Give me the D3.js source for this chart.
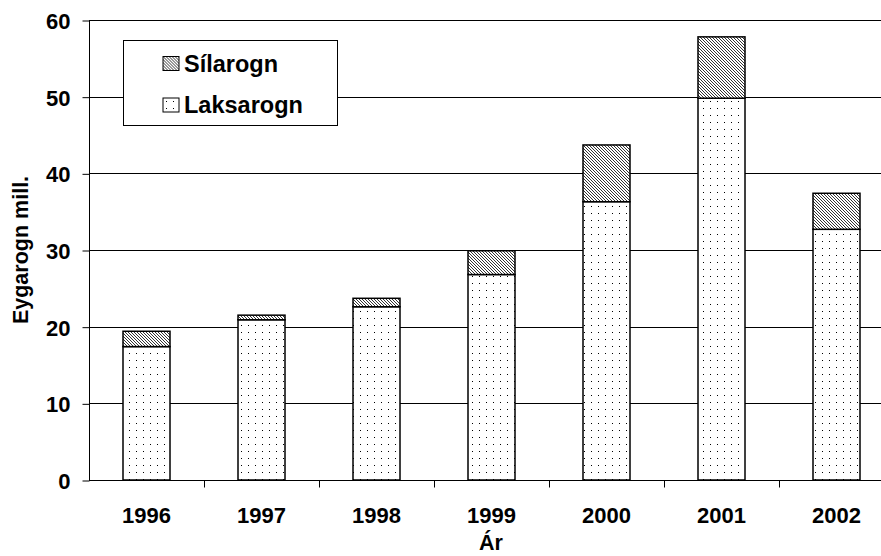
<!DOCTYPE html>
<html>
<head>
<meta charset="utf-8">
<script src="https://cdn.jsdelivr.net/npm/d3@7"></script>
<style>
    body { margin: 0; background: #fff; }
    text { font-family: Arial, "Liberation Sans", Helvetica, sans-serif; font-weight: bold; fill: #000; }
</style>
</head>
<body>
<svg width="881" height="556"></svg>
<script>
// chart data
var years = ['1996', '1997', '1998', '1999', '2000', '2001', '2002'];
var laksarogn = [17.4, 20.9, 22.6, 26.8, 36.3, 49.8, 32.7];
var silarogn = [2.0, 0.6, 1.1, 3.1, 7.4, 8.0, 4.7];
var yTicks = [0, 10, 20, 30, 40, 50, 60];
var seriesNames = ['Sílarogn', 'Laksarogn'];

var svg = d3.select('svg');

// plot area (the right edge runs past the picture, as in the original)
var padding = {t: 20, l: 89, r: 894, b: 480};

var xScale = d3.scaleBand()
    .domain(years)
    .range([padding.l, padding.r])
    .paddingInner(68 / 115)
    .paddingOuter(34 / 115);

var yScale = d3.scaleLinear()
    .domain([0, 60])
    .range([padding.b, padding.t]);

// fill patterns
var defs = svg.append('defs');

var dots = defs.append('pattern')
    .attr('id', 'dots')
    .attr('patternUnits', 'userSpaceOnUse')
    .attr('width', 7)
    .attr('height', 7);
dots.append('rect').attr('width', 7).attr('height', 7).attr('fill', '#fff');
dots.append('rect').attr('x', 3).attr('y', 3).attr('width', 1).attr('height', 1).attr('fill', '#000');

var hatch = defs.append('pattern')
    .attr('id', 'hatch')
    .attr('patternUnits', 'userSpaceOnUse')
    .attr('width', 3)
    .attr('height', 3);
hatch.append('rect').attr('width', 3).attr('height', 3).attr('fill', '#fff');
[0, 1, 2].forEach(function(i) {
    hatch.append('rect').attr('x', i).attr('y', i).attr('width', 1).attr('height', 1).attr('fill', '#333');
});

// gridlines
svg.append('g')
    .selectAll('line')
    .data(yTicks.slice(1))
    .enter()
    .append('line')
    .attr('x1', padding.l)
    .attr('x2', padding.r)
    .attr('y1', function(d) { return Math.round(yScale(d)) + 0.5; })
    .attr('y2', function(d) { return Math.round(yScale(d)) + 0.5; })
    .attr('stroke', '#000')
    .attr('stroke-width', 1);

// stacked bars
var bars = svg.append('g')
    .selectAll('g')
    .data(years)
    .enter()
    .append('g');

bars.append('rect')
    .attr('x', function(d) { return xScale(d); })
    .attr('width', xScale.bandwidth())
    .attr('y', function(d, i) { return yScale(laksarogn[i]); })
    .attr('height', function(d, i) { return yScale(0) - yScale(laksarogn[i]); })
    .attr('fill', 'url(#dots)')
    .attr('stroke', '#000')
    .attr('stroke-width', 1.5);

bars.append('rect')
    .attr('x', function(d) { return xScale(d); })
    .attr('width', xScale.bandwidth())
    .attr('y', function(d, i) { return yScale(laksarogn[i] + silarogn[i]); })
    .attr('height', function(d, i) { return yScale(laksarogn[i]) - yScale(laksarogn[i] + silarogn[i]); })
    .attr('fill', 'url(#hatch)')
    .attr('stroke', '#000')
    .attr('stroke-width', 1.5);

// y axis
var yAxis = svg.append('g')
    .attr('transform', 'translate(' + (padding.l + 0.5) + ',0.5)')
    .call(d3.axisLeft(yScale).tickValues(yTicks).tickSize(7).tickPadding(12));
yAxis.select('.domain').attr('stroke', '#000').attr('d', 'M0,' + (padding.t - 0.5) + 'V' + (padding.b - 0.5));
yAxis.selectAll('.tick line').attr('stroke', '#000');
yAxis.selectAll('.tick text')
    .style('font-size', '22px')
    .attr('dy', '0.36em');

// x axis, ticks sit between the categories
var xAxis = svg.append('g')
    .attr('transform', 'translate(0,' + (padding.b + 0.5) + ')');
xAxis.append('line')
    .attr('x1', padding.l)
    .attr('x2', padding.r)
    .attr('stroke', '#000');
xAxis.selectAll('.xtick')
    .data(years.slice(1))
    .enter()
    .append('line')
    .attr('class', 'xtick')
    .attr('x1', function(d) { return Math.round(xScale(d) - xScale.step() * xScale.paddingInner() / 2) + 0.5; })
    .attr('x2', function(d) { return Math.round(xScale(d) - xScale.step() * xScale.paddingInner() / 2) + 0.5; })
    .attr('y1', 0)
    .attr('y2', 7)
    .attr('stroke', '#000');
xAxis.selectAll('.xlabel')
    .data(years)
    .enter()
    .append('text')
    .attr('class', 'xlabel')
    .attr('x', function(d) { return xScale(d) + xScale.bandwidth() / 2; })
    .attr('y', 42.5)
    .attr('text-anchor', 'middle')
    .style('font-size', '22px')
    .text(function(d) { return d; });

// axis titles
svg.append('text')
    .attr('x', 491)
    .attr('y', 550)
    .attr('text-anchor', 'middle')
    .style('font-size', '21.5px')
    .text('Ár');

svg.append('text')
    .attr('transform', 'translate(28,' + ((padding.t + padding.b) / 2) + ') rotate(-90)')
    .attr('text-anchor', 'middle')
    .style('font-size', '21.5px')
    .text('Eygarogn mill.');

// legend
var legend = svg.append('g');
legend.append('rect')
    .attr('x', 123.5)
    .attr('y', 40.5)
    .attr('width', 214)
    .attr('height', 85)
    .attr('fill', '#fff')
    .attr('stroke', '#000');

var legendItems = legend.selectAll('.item')
    .data(seriesNames)
    .enter()
    .append('g')
    .attr('class', 'item')
    .attr('transform', function(d, i) { return 'translate(163,' + (56.5 + 41.5 * i) + ')'; });

legendItems.append('rect')
    .attr('width', 16)
    .attr('height', 14)
    .attr('fill', function(d, i) { return i === 0 ? 'url(#hatch)' : 'url(#dots)'; })
    .attr('stroke', '#000');

legendItems.append('text')
    .attr('x', 21)
    .attr('y', 15)
    .style('font-size', '23.5px')
    .text(function(d) { return d; });
</script>
</body>
</html>
